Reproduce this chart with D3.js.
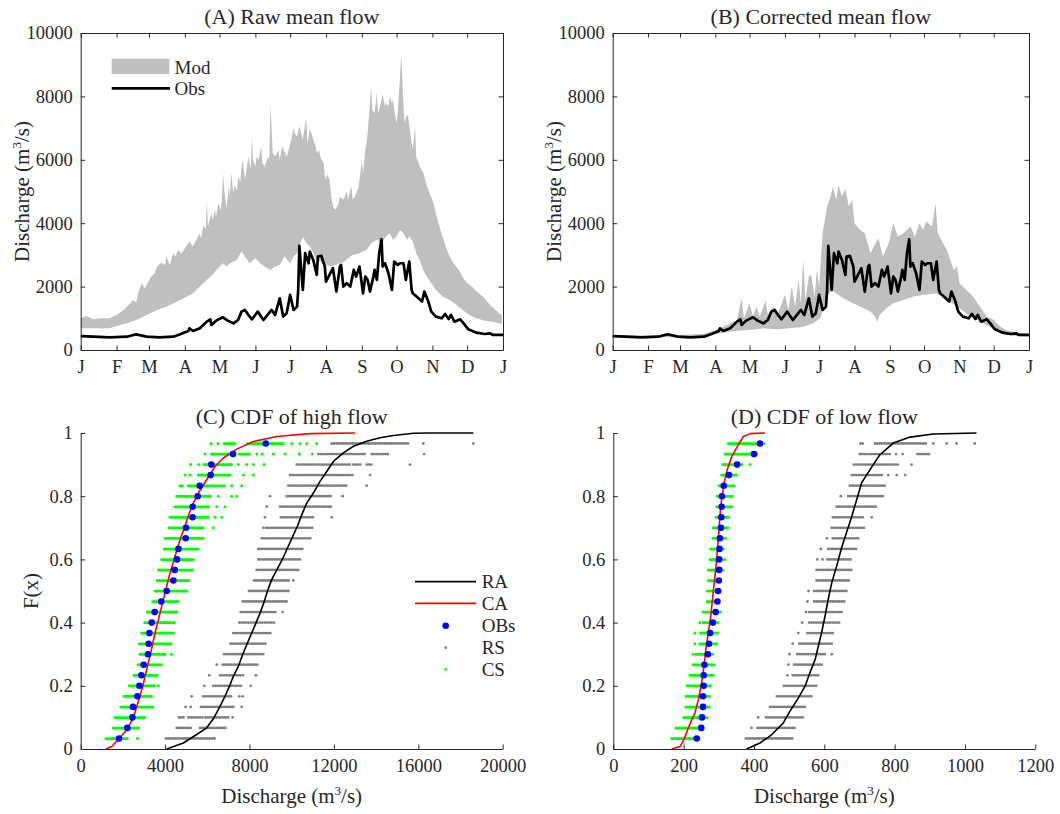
<!DOCTYPE html>
<html>
<head>
<meta charset="utf-8">
<script src="https://cdn.jsdelivr.net/npm/d3@7"></script>
<style>
  body { margin: 0; background: #fff; }
  svg text { font-family: "Liberation Serif", "Times New Roman", serif; fill: #262626; }
</style>
</head>
<body>
<script>
// month ticks (day of year)
var monthDays = [0, 31, 59, 90, 120, 151, 181, 212, 243, 273, 304, 334, 365];
var monthLbl = ["J", "F", "M", "A", "M", "J", "J", "A", "S", "O", "N", "D", "J"];

// observed mean daily flow [day, m3/s]
var obsFlow = [[0,440],[11,420],[25,400],[40,420],[48,495],[57,420],[68,400],[80,420],[86,495],[93,600],[94,684],[97,600],
  [103,684],[109,895],[112,968],[113,789],[117,926],[123,1032],[127,926],[132,842],[136,947],[139,1210],[142,1263],
  [145,1105],[148,968],[153,1210],[158,947],[165,1263],[168,1105],[172,1632],[175,1053],[178,1158],[181,1737],
  [184,1263],[187,1368],[188,1895],[189,3284],[192,1895],[194,3053],[197,2737],[198,3105],[201,2842],[204,2368],
  [205,2947],[208,2968],[211,2632],[212,2158],[215,2368],[218,2579],[221,1842],[224,2632],[225,2684],[227,2000],
  [230,2105],[233,2000],[236,2526],[238,2316],[241,2632],[244,1789],[246,2316],[248,2211],[250,1842],[253,2316],
  [254,2526],[256,2211],[258,3053],[260,3495],[261,2632],[263,2737],[266,2421],[269,1895],[271,2789],[274,2684],
  [276,2737],[279,2737],[281,2211],[284,2789],[286,1895],[287,1789],[292,1632],[295,1526],[297,1842],[300,1579],
  [303,1210],[307,1053],[312,1000],[315,1137],[318,979],[320,1105],[323,895],[328,968],[331,842],[335,653],
  [342,547],[349,505],[354,526],[356,474],[365,474]];

// raw model envelope (upper / lower)
var rawUpper = [[0,1000],[5,1074],[11,968],[17,1000],[25,1000],[31,1105],[37,1263],[43,1474],[45,1579],[48,1500],
  [50,1842],[53,2105],[55,1950],[57,2053],[61,2316],[64,2420],[66,2632],[69,2737],[71,2737],[73,2680],[74,2947],
  [77,2684],[80,3053],[82,2950],[84,3158],[87,3050],[90,3210],[94,3421],[97,3263],[100,3474],[103,3684],[104,3500],
  [106,3947],[108,3800],[109,4684],[110,3895],[113,4316],[114,4100],[116,4421],[117,4206],[119,4632],[121,4400],
  [122,4737],[123,5584],[124,5053],[126,4474],[128,5158],[129,4842],[130,5579],[132,4947],[133,5211],[135,5000],
  [136,5474],[138,5300],[139,5789],[140,6000],[142,5368],[145,6105],[147,5684],[148,6684],[149,6000],[151,5789],
  [152,6105],[154,6000],[155,6257],[156,6421],[157,5900],[159,5789],[162,6105],[163,6000],[164,7737],[166,6211],
  [168,6105],[171,6316],[172,6000],[174,6421],[176,6263],[178,6099],[179,6211],[182,6632],[184,7000],[185,6842],
  [187,6737],[189,7053],[192,6632],[193,6900],[195,7316],[196,6526],[198,6947],[199,6895],[201,6632],[203,6450],
  [204,6211],[206,6300],[207,6105],[210,5895],[211,5500],[212,5368],[213,5550],[215,5368],[217,4737],[218,4526],
  [220,4421],[223,4632],[224,4842],[227,4737],[230,5000],[231,4737],[233,5053],[234,5158],[235,4737],[237,4842],
  [240,5105],[241,5368],[243,6000],[244,5579],[246,6316],[247,6526],[248,6842],[250,7789],[251,8316],[252,7579],
  [254,7474],[256,8105],[257,7474],[258,7579],[260,7895],[261,8053],[263,7684],[264,7789],[266,7684],[267,8000],
  [269,7789],[270,7895],[271,7579],[273,7158],[274,7474],[276,8632],[277,9368],[279,7684],[280,7158],[282,7421],
  [283,7368],[284,7053],[287,6316],[289,7053],[290,6105],[293,5800],[296,5600],[299,5200],[302,4900],[305,4640],
  [307,4300],[310,3900],[313,3550],[316,3200],[319,2950],[322,2750],[325,2600],[328,2450],[330,2300],[333,2150],
  [338,2000],[342,1850],[348,1670],[353,1450],[359,1250],[364,1100]];
var rawLower = [[0,684],[11,684],[25,684],[34,789],[40,842],[48,947],[57,1105],[66,1263],[74,1368],[83,1526],
  [92,1684],[97,1789],[103,2000],[109,2211],[115,2421],[120,2632],[123,2737],[126,2632],[129,2737],[135,2842],
  [139,3105],[142,2947],[146,2737],[151,2895],[155,2737],[159,2632],[164,2526],[168,2632],[172,2684],[176,2947],
  [181,2737],[184,2947],[187,3053],[189,3263],[192,3579],[195,3368],[198,3263],[201,3053],[204,2842],[210,2737],
  [212,2684],[217,2632],[220,2684],[224,2737],[228,2789],[233,2947],[235,3000],[241,3053],[247,3158],[251,3368],
  [256,3474],[260,3368],[264,3579],[267,3684],[270,3474],[273,3579],[276,3789],[279,3684],[282,3474],[284,3579],
  [287,3421],[290,3053],[293,2842],[296,2526],[299,2316],[303,2105],[307,1895],[313,1684],[319,1579],[325,1421],
  [330,1263],[336,1105],[342,1000],[349,926],[356,895],[364,821]];

// corrected model envelope (upper / lower)
var corUpper = [[0,474],[30,453],[59,474],[79,505],[91,632],[100,789],[109,947],[113,1632],[115,1000],[120,1474],
  [123,1053],[126,1368],[129,1053],[134,1579],[136,1105],[141,1368],[145,1158],[151,1737],[154,1263],[157,2000],
  [160,1368],[163,2211],[165,1474],[167,2842],[169,1579],[172,2316],[174,2368],[177,1684],[179,2526],[181,2000],
  [184,3684],[188,4526],[191,4842],[193,5158],[196,4737],[198,5211],[201,4842],[204,5105],[207,4526],[210,4737],
  [212,4000],[217,3789],[221,3684],[226,3053],[229,3263],[233,3526],[237,2947],[242,3368],[246,4000],[250,3579],
  [255,3684],[261,3895],[265,3579],[269,4000],[272,3789],[275,4053],[280,3895],[283,4632],[285,3684],[288,3474],
  [293,3158],[296,2842],[299,2526],[302,2632],[304,2105],[310,1895],[316,1684],[322,1368],[328,1053],[334,947],
  [340,737],[345,632],[357,526],[365,474]];
var corLower = [[0,421],[30,400],[59,400],[74,421],[85,474],[97,547],[109,611],[120,632],[132,684],[144,653],
  [155,684],[167,737],[176,842],[182,1000],[185,1368],[188,1684],[192,1895],[196,1789],[202,1632],[208,1526],
  [214,1421],[220,1316],[226,1211],[230,1053],[232,895],[234,1105],[240,1316],[246,1474],[255,1579],[264,1684],
  [272,1737],[284,1789],[290,1684],[296,1526],[302,1368],[310,1158],[319,960],[328,780],[334,680],[342,500],
  [352,450],[365,420]];

// plotting positions of the 29 yearly values
var probs = [0.0333,0.0667,0.1,0.1333,0.1667,0.2,0.2333,0.2667,0.3,0.3333,0.3667,0.4,0.4333,0.4667,0.5,
  0.5333,0.5667,0.6,0.6333,0.6667,0.7,0.7333,0.7667,0.8,0.8333,0.8667,0.9,0.9333,0.9667];

// (C) high flow
var obsHigh = [1815,2210,2450,2480,2685,2780,2875,2985,3190,3220,3255,3365,3505,3820,4075,4390,4455,4565,4630,
  4975,4990,5305,5305,5545,5640,6160,6190,7220,8770];
var raHigh = [[4075,0],[4865,0.019],[5497,0.046],[5971,0.067],[6319,0.099],[6603,0.135],[6840,0.167],[7045,0.198],
  [7235,0.23],[7472,0.262],[7677,0.299],[7867,0.33],[8104,0.367],[8309,0.399],[8499,0.43],[8700,0.467],[8850,0.499],
  [9050,0.536],[9300,0.568],[9550,0.599],[9800,0.636],[10050,0.673],[10269,0.705],[10474,0.741],[10711,0.778],
  [11027,0.81],[11343,0.847],[11659,0.878],[11975,0.91],[12449,0.937],[12923,0.958],[13555,0.974],[14187,0.985],
  [14819,0.992],[15767,0.999],[16500,1],[18611,1]];
var caHigh = [[1200,0],[1468,0.008],[1784,0.03],[2179,0.061],[2495,0.098],[2732,0.151],[2937,0.198],[3127,0.251],
  [3317,0.304],[3522,0.367],[3759,0.43],[3996,0.494],[4233,0.557],[4470,0.61],[4707,0.662],[4991,0.715],
  [5260,0.768],[5576,0.81],[5971,0.852],[6366,0.894],[6761,0.921],[7393,0.949],[8183,0.973],[9289,0.989],
  [10869,0.998],[13002,1]];
// simulated members per year: [lo,hi] runs and single values
var rsHigh = [[[4042,6412]],[[4550,5300],[5650,6920]],[[4659,4900],[5100,5800],[5900,7000],[7202]],
  [[4975],[5212],[5701,7281],[7629]],[[5259],[5812,7234],[7518],[7676]],[[5859],[6286,7676],[8056]],
  [[6096],[6602,7787],[8308]],[[6444],[6728,8466]],[[6792,8735]],[[7108,8782]],[[7234,9004]],[[7518,9162]],
  [[7582,9288],[9572]],[[7676,9762]],[[7977,9888]],[[8214,9888],[10078]],[[8340,10315]],[[8419,10394]],
  [[8419,10584]],[[8577,10947]],[[8656],[8782,10994]],[[8735],[9478,11025],[11895]],[[8815],[9447,11896]],
  [[8973],[9763,11896],[12417]],[[9842,12686],[13555]],[[9921,12923],[13713]],
  [[10237,12765],[12923,13318],[13555,13792],[15609]],[[10363],[11264,13523],[13792,14661],[16273]],
  [[11896,15530],[16240],[18611]]];
var csHigh = [[[1200,2258],[2685]],[[1547,2811]],[[1626,3095]],[[1910,3411]],[[2053,3443]],[[2305,3530],[3680]],
  [[2527,3696]],[[2716,3870]],[[2811,4043],[4296]],[[2780,4343]],[[2890,4470]],[[3032,4517]],[[3159,4596]],
  [[3411,4707]],[[3522,5023]],[[3633,5181]],[[3696,5386]],[[3838,5434]],[[3965,5623]],[[4012,5844]],
  [[4201,5892],[6287]],[[4233,6100],[6366],[6682]],[[4470,6150],[6445],[6840]],[[4550,6200],[6524],[7156],[7393]],
  [[4707,4870],[5100,6900],[7156],[7630]],[[4944],[5181],[5576,7077],[7709],[8183]],
  [[5213],[5600],[5844,7235],[7472],[7867],[8183],[8689]],
  [[5893],[6200,7300],[7500,8000],[8350],[8600],[9131],[9684],[10363],[10980]],
  [[6176],[6500],[6800,7300],[7900,9700],[10000],[10400],[10711],[11185]]];

// (D) low flow
var obsLow = [237,250,252,255,255,257,257,259,269,272,275,283,291,296,298,300,301,301,302,303,306,307,308,309,
  314,329,352,400,417];
var raLow = [[379,0],[417,0.019],[450,0.045],[483,0.082],[502,0.119],[526,0.161],[545,0.198],[559,0.241],
  [574,0.283],[583,0.325],[592,0.367],[602,0.42],[611,0.473],[621,0.525],[635,0.578],[649,0.636],[663,0.684],
  [678,0.736],[692,0.789],[706,0.842],[730,0.884],[758,0.931],[796,0.968],[844,0.987],[910,0.997],[1033,1]];
var caLow = [[166,0],[190,0.008],[201,0.03],[213,0.066],[232,0.114],[242,0.156],[251,0.209],[258,0.262],
  [263,0.314],[270,0.367],[277,0.42],[282,0.473],[287,0.525],[292,0.578],[296,0.631],[300,0.684],[303,0.736],
  [308,0.789],[315,0.842],[324,0.884],[337,0.926],[353,0.958],[370,0.989],[389,0.998],[431,1]];
var rsLow = [[[377,510]],[[393],[410,520]],[[412],[434,545]],[[446,550]],[[465,569]],[[485,583]],[[495],[510,588]],
  [[498],[514,599]],[[501],[523,605],[621]],[[510],[529,626]],[[526],[552,630]],[[537],[557,645]],[[548],[557,654]],
  [[552],[571,662]],[[555],[571,668]],[[578,673]],[[578,678]],[[580],[595],[609,681]],[[590],[611,692]],
  [[607],[624,700]],[[621,713]],[[624,711],[735]],[[635,751]],[[647],[668,768]],[[673,777]],
  [[678,768],[782],[806],[830]],[[684,810],[848]],[[701,791],[804],[823],[865,899]],
  [[703],[709],[744,891],[910],[948],[976],[1028]]];
var csLow = [[[166,246]],[[178,261]],[[201,270]],[[207,275]],[[207,277]],[[210,280]],[[218,289]],[[227],[232,289]],
  [[227],[235,289]],[[232],[246,296]],[[232],[248,298]],[[246],[256,300]],[[256,305]],[[267,303]],[[267,306]],
  [[270,308]],[[270,313]],[[275,318]],[[277,318]],[[283,320]],[[284,327]],[[292,334]],[[294,337]],[[296,339]],
  [[301,346]],[[308,355]],[[311,370],[389]],[[318,408]],[[327,431]]];

var legendItems = ["RA", "CA", "OBs", "RS", "CS"];

var W = 1060, H = 814;
var FONT = '"Liberation Serif", "Times New Roman", serif';
var AXC = "#262626";
var svg = d3.select("body").append("svg").attr("width", W).attr("height", H);
svg.append("rect").attr("width", W).attr("height", H).attr("fill", "#fff");

function makePanel(l, r, t, b, xd, yd) {
  return { l: l, r: r, t: t, b: b,
    x: d3.scaleLinear().domain(xd).range([l, r]),
    y: d3.scaleLinear().domain(yd).range([b, t]) };
}
var pA = makePanel(80.7, 503, 33, 350, [0, 365], [0, 10000]);
var pB = makePanel(612.7, 1029, 33, 350, [0, 365], [0, 10000]);
var pC = makePanel(80.7, 502.7, 433, 749, [0, 20000], [0, 1]);
var pD = makePanel(613.3, 1035.3, 433, 749, [0, 1200], [0, 1]);

function noLabel() { return ""; }

function drawAxes(p, xt, xf, yt, yf, boxOn) {
  var g = svg.append("g");
  g.append("g").attr("transform", "translate(0," + p.b + ")")
    .call(d3.axisBottom(p.x).tickValues(xt).tickFormat(xf).tickSizeInner(-4.5).tickSizeOuter(0).tickPadding(10));
  g.append("g").attr("transform", "translate(" + p.l + ",0)")
    .call(d3.axisLeft(p.y).tickValues(yt).tickFormat(yf).tickSizeInner(-4.5).tickSizeOuter(0).tickPadding(8));
  if (boxOn) {
    g.append("g").attr("transform", "translate(0," + p.t + ")")
      .call(d3.axisTop(p.x).tickValues(xt).tickFormat(noLabel).tickSizeInner(-4.5).tickSizeOuter(0));
    g.append("g").attr("transform", "translate(" + p.r + ",0)")
      .call(d3.axisRight(p.y).tickValues(yt).tickFormat(noLabel).tickSizeInner(-4.5).tickSizeOuter(0));
  }
  g.selectAll("text").style("font-family", FONT).style("font-size", "18.5px").style("fill", AXC);
  g.selectAll("path,line").attr("stroke", AXC).attr("stroke-width", 1);
}

function title(p, txt) {
  svg.append("text").attr("x", (p.l + p.r) / 2).attr("y", p.t - 9)
    .attr("text-anchor", "middle").style("font-size", "22px").text(txt);
}

function dischargeLabel(x, y, rotate) {
  var t = svg.append("text")
    .attr("transform", "translate(" + x + "," + y + ")" + (rotate ? " rotate(-90)" : ""))
    .attr("text-anchor", "middle").style("font-size", "21px");
  t.append("tspan").text("Discharge (m");
  t.append("tspan").attr("dy", -8).style("font-size", "13px").text("3");
  t.append("tspan").attr("dy", 8).text("/s)");
}

function band(p, up, lo) {
  var pts = up.concat(lo.slice().reverse());
  var line = d3.line().x(function(d){ return p.x(d[0]); }).y(function(d){ return p.y(d[1]); });
  svg.append("path").attr("d", line(pts) + "Z").attr("fill", "#bfbfbf");
}

function curve(p, data, color, w) {
  var line = d3.line().x(function(d){ return p.x(d[0]); }).y(function(d){ return p.y(d[1]); });
  svg.append("path").datum(data).attr("d", line).attr("fill", "none")
    .attr("stroke", color).attr("stroke-width", w).attr("stroke-linejoin", "round");
}

// rows of dots: runs drawn as round dotted strokes, singles as dots
function dotRows(p, data, color, size, gap) {
  var g = svg.append("g");
  var rowG = g.selectAll(".row").data(data).enter().append("g").attr("class", "row");
  rowG.each(function(row, i) {
    var yy = p.y(probs[i]);
    var sel = d3.select(this);
    sel.selectAll("line").data(row.filter(function(s){ return s.length === 2; })).enter().append("line")
      .attr("x1", function(s){ return p.x(s[0]); }).attr("x2", function(s){ return p.x(s[1]); })
      .attr("y1", yy).attr("y2", yy)
      .attr("stroke", color).attr("stroke-width", size).attr("stroke-linecap", "round")
      .attr("stroke-dasharray", "0.01," + gap);
    sel.selectAll("circle").data(row.filter(function(s){ return s.length === 1; })).enter().append("circle")
      .attr("cx", function(s){ return p.x(s[0]); }).attr("cy", yy).attr("r", size / 2).attr("fill", color);
  });
}

function obsDots(p, vals) {
  svg.append("g").selectAll("circle").data(vals).enter().append("circle")
    .attr("cx", function(d){ return p.x(d); })
    .attr("cy", function(d, i){ return p.y(probs[i]); })
    .attr("r", 3.3).attr("fill", "#0000ff");
}

// ---------- (A) ----------
band(pA, rawUpper, rawLower);
curve(pA, obsFlow, "#000", 2.7);
drawAxes(pA, monthDays, function(d, i){ return monthLbl[i]; }, [0,2000,4000,6000,8000,10000], d3.format("d"), true);
title(pA, "(A) Raw mean flow");
dischargeLabel(29, (pA.t + pA.b) / 2, true);
svg.append("rect").attr("x", 111.7).attr("y", 58.7).attr("width", 57.6).attr("height", 15.3).attr("fill", "#bfbfbf");
svg.append("text").attr("x", 174.5).attr("y", 73.5).style("font-size", "19px").text("Mod");
svg.append("line").attr("x1", 111.7).attr("x2", 170).attr("y1", 88.3).attr("y2", 88.3)
  .attr("stroke", "#000").attr("stroke-width", 2.7);
svg.append("text").attr("x", 174.5).attr("y", 94.5).style("font-size", "19px").text("Obs");

// ---------- (B) ----------
band(pB, corUpper, corLower);
curve(pB, obsFlow, "#000", 2.7);
drawAxes(pB, monthDays, function(d, i){ return monthLbl[i]; }, [0,2000,4000,6000,8000,10000], d3.format("d"), true);
title(pB, "(B) Corrected mean flow");
dischargeLabel(560.5, (pB.t + pB.b) / 2, true);

// ---------- (C) ----------
dotRows(pC, rsHigh, "#808080", 2.8, 2.3);
dotRows(pC, csHigh, "#00ff00", 3.0, 2.1);
curve(pC, raHigh, "#000", 1.6);
curve(pC, caHigh, "#ff0000", 1.6);
obsDots(pC, obsHigh);
drawAxes(pC, [0,4000,8000,12000,16000,20000], d3.format("d"), [0,0.2,0.4,0.6,0.8,1], function(d){ return String(d); }, false);
title(pC, "(C) CDF of high flow");
dischargeLabel((pC.l + pC.r) / 2, 803, false);
svg.append("text").attr("transform", "translate(38," + ((pC.t + pC.b) / 2) + ") rotate(-90)")
  .attr("text-anchor", "middle").style("font-size", "21px").text("F(x)");

// legend (C)
var legY = [581.7, 603.3, 625.7, 647.7, 669.3];
var lg = svg.append("g");
lg.append("line").attr("x1", 415).attr("x2", 476).attr("y1", legY[0]).attr("y2", legY[0]).attr("stroke", "#000").attr("stroke-width", 1.8);
lg.append("line").attr("x1", 415).attr("x2", 476).attr("y1", legY[1]).attr("y2", legY[1]).attr("stroke", "#ff0000").attr("stroke-width", 1.8);
lg.append("circle").attr("cx", 445.7).attr("cy", legY[2]).attr("r", 3.3).attr("fill", "#0000ff");
lg.append("circle").attr("cx", 445.7).attr("cy", legY[3]).attr("r", 1.4).attr("fill", "#808080");
lg.append("circle").attr("cx", 445.7).attr("cy", legY[4]).attr("r", 1.4).attr("fill", "#00ff00");
lg.selectAll("text").data(legendItems).enter().append("text")
  .attr("x", 481.7).attr("y", function(d, i){ return legY[i] + 6.5; })
  .style("font-size", "19px").text(function(d){ return d; });

// ---------- (D) ----------
dotRows(pD, rsLow, "#808080", 2.8, 2.3);
dotRows(pD, csLow, "#00ff00", 3.0, 2.1);
curve(pD, raLow, "#000", 1.6);
curve(pD, caLow, "#ff0000", 1.6);
obsDots(pD, obsLow);
drawAxes(pD, [0,200,400,600,800,1000,1200], d3.format("d"), [0,0.2,0.4,0.6,0.8,1], function(d){ return String(d); }, false);
title(pD, "(D) CDF of low flow");
dischargeLabel((pD.l + pD.r) / 2, 803, false);
</script>
</body>
</html>
